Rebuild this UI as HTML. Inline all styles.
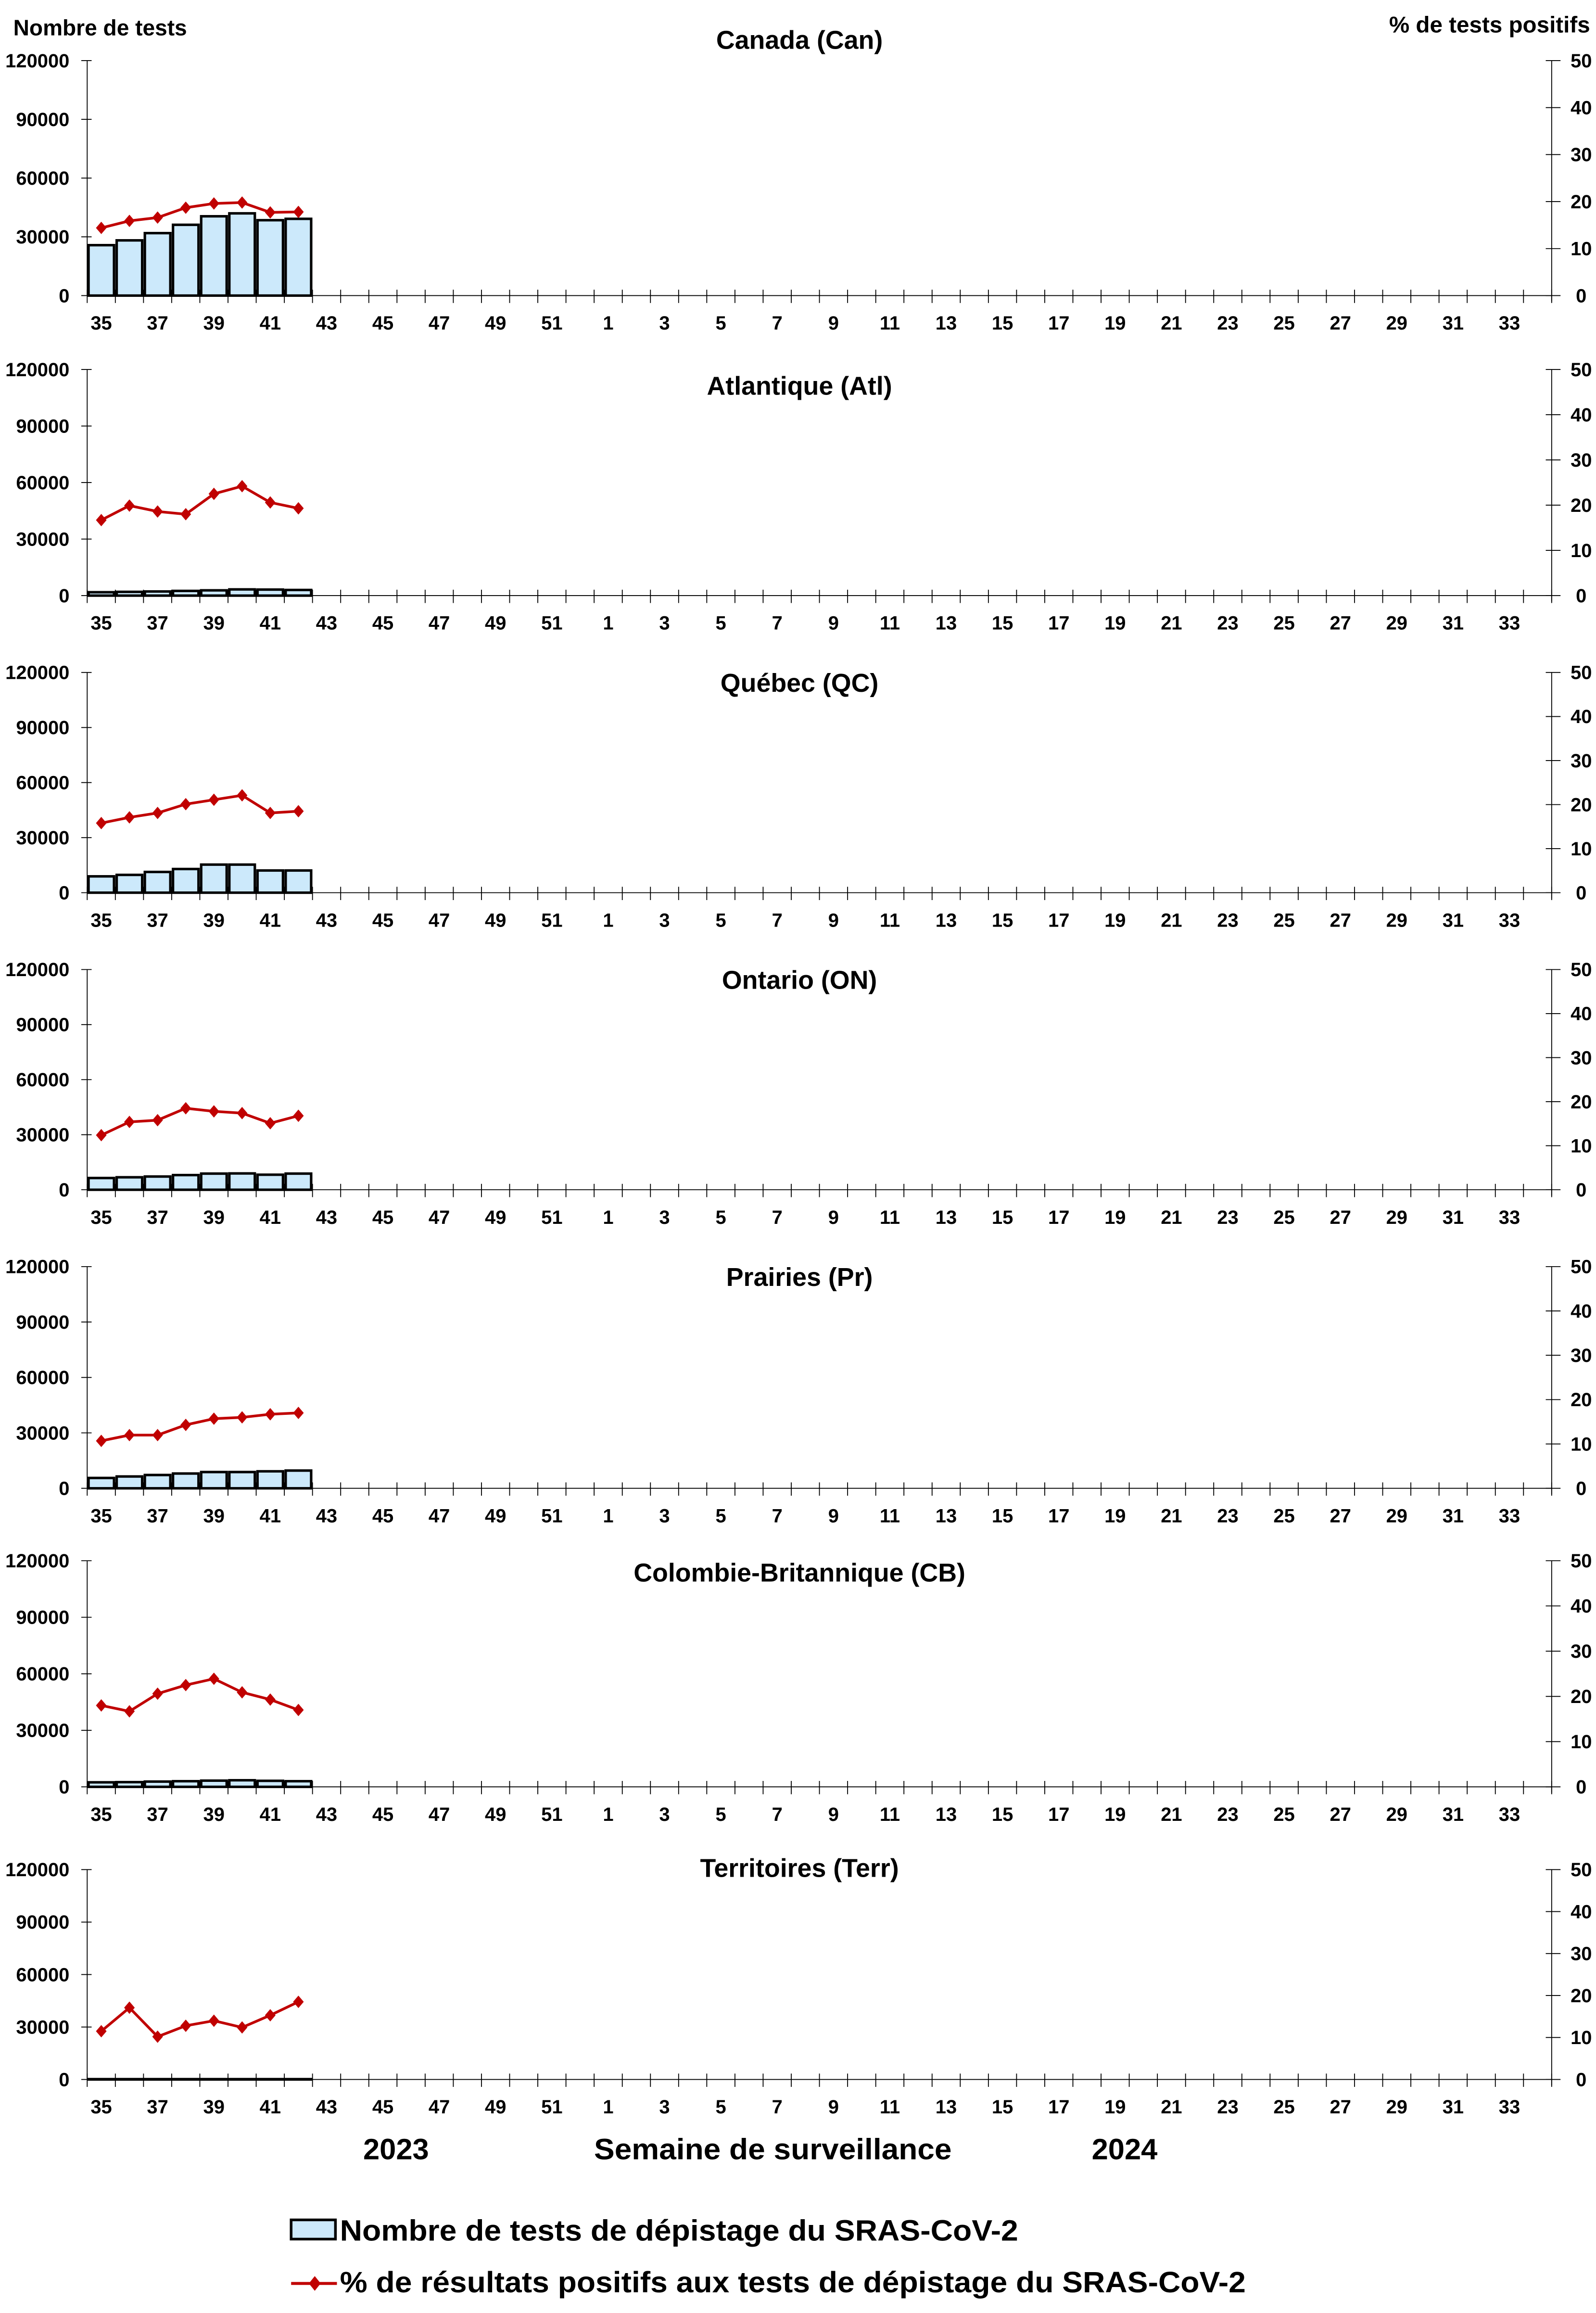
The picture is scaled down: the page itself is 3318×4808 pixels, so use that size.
<!DOCTYPE html>
<html><head><meta charset="utf-8">
<style>
html,body{margin:0;padding:0;background:#fff;}
svg{display:block;}
text{font-family:"Liberation Sans",Arial,sans-serif;font-weight:bold;fill:#000;}
</style></head>
<body>
<svg id="chart" xmlns="http://www.w3.org/2000/svg" width="3318" height="4808" viewBox="0 0 1080 1565" preserveAspectRatio="none">
<rect x="0" y="0" width="1080" height="1565" fill="#fff"/>
<text x="9" y="24" font-size="15">Nombre de tests</text>
<text x="1076" y="22" font-size="15.5" text-anchor="end" textLength="136" lengthAdjust="spacingAndGlyphs">% de tests positifs</text>
<g id="panels"></g>
<text x="268" y="1461" font-size="20" text-anchor="middle">2023</text>
<text x="523" y="1461" font-size="20" text-anchor="middle" textLength="242" lengthAdjust="spacingAndGlyphs">Semaine de surveillance</text>
<text x="761" y="1461" font-size="20" text-anchor="middle">2024</text>
<g>
  <rect x="197" y="1502" width="30" height="13" fill="#cce9fb" stroke="#000" stroke-width="1.8"/>
  <text x="230" y="1516" font-size="20" textLength="459" lengthAdjust="spacingAndGlyphs">Nombre de tests de dépistage du SRAS-CoV-2</text>
  <line x1="197" y1="1545" x2="228" y2="1545" stroke="#c00000" stroke-width="2"/>
  <path d="M213,1540 L217,1545 L213,1550 L209,1545 Z" fill="#c00000"/>
  <text x="230" y="1551" font-size="20" textLength="613" lengthAdjust="spacingAndGlyphs">% de résultats positifs aux tests de dépistage du SRAS-CoV-2</text>
</g>
</svg>
<script>
const weeks = [35,36,37,38,39,40,41,42,43,44,45,46,47,48,49,50,51,52,1,2,3,4,5,6,7,8,9,10,11,12,13,14,15,16,17,18,19,20,21,22,23,24,25,26,27,28,29,30,31,32,33,34];
const leftTicks = [0,30000,60000,90000,120000];
const rightTicks = [0,10,20,30,40,50];
const regions = ["Canada (Can)","Atlantique (Atl)","Québec (QC)","Ontario (ON)","Prairies (Pr)","Colombie-Britannique (CB)","Territoires (Terr)"];
const testsCan = [25750,28200,31900,36150,40500,42000,38500,39200];
const testsAtl = [1800,2000,2200,2500,2800,3300,3200,3000];
const testsQC = [8900,9700,11300,12900,15300,15300,12100,12100];
const testsON = [6400,6800,7200,8000,8800,8900,8200,8800];
const testsPr = [5600,6400,7200,8000,8800,8800,9200,9600];
const testsCB = [2400,2500,2800,3000,3300,3500,3200,3000];
const testsTerr = [200,200,200,200,200,200,200,200];
const pctCan = [14.4,15.9,16.6,18.7,19.6,19.8,17.7,17.8];
const pctAtl = [16.7,19.9,18.6,18.0,22.5,24.2,20.6,19.3];
const pctQC = [15.8,17.1,18.1,20.1,21.1,22.1,18.1,18.5];
const pctON = [12.4,15.4,15.8,18.5,17.8,17.4,15.1,16.8];
const pctPr = [10.7,12.0,12.0,14.3,15.7,16.0,16.7,17.0];
const pctCB = [18.0,16.7,20.6,22.5,23.9,20.9,19.3,17.0];
const pctTerr = [11.5,17.1,10.2,12.8,14.0,12.4,15.3,18.5];

const testsAll = [testsCan,testsAtl,testsQC,testsON,testsPr,testsCB,testsTerr];
const pctAll = [pctCan,pctAtl,pctQC,pctON,pctPr,pctCB,pctTerr];
const layout = [[41,200,33],[250,403,267],[455,604,468],[656,805,669],[857,1007,870],[1056,1209,1070],[1265,1407,1270]];

const NS="http://www.w3.org/2000/svg";
const root=document.getElementById('panels');
const X0=59, X1=1050, cw=(X1-X0)/weeks.length;
function mk(tag,attrs,parent){const e=document.createElementNS(NS,tag);for(const k in attrs)e.setAttribute(k,attrs[k]);parent.appendChild(e);return e;}

regions.forEach((name,p)=>{
  const [top,base,ty]=layout[p];
  const yL=v=>base-(v/120000)*(base-top);
  const yR=v=>base-(v/50)*(base-top);
  const xC=i=>X0+cw*(i+0.5);
  const g=mk('g',{},root);
  
  
  const t=mk('text',{x:541,y:ty,'font-size':17.5,'text-anchor':'middle'},g);
  
  
  t.textContent=name;
  const la=mk('line',{x1:X0,y1:top,x2:X0,y2:base,stroke:'#000','stroke-width':0.6},g);
  
  
  const ra=mk('line',{x1:X1,y1:top,x2:X1,y2:base+4,stroke:'#000','stroke-width':0.6},g);
  
  
  const xa=mk('line',{x1:X0,y1:base,x2:X1,y2:base,stroke:'#000','stroke-width':0.6},g);
  
  
  leftTicks.forEach(v=>{
    mk('line',{x1:55,y1:yL(v),x2:62,y2:yL(v),stroke:'#000','stroke-width':0.6},g);
    const l=mk('text',{x:47,y:yL(v)+4.5,'font-size':13,'text-anchor':'end'},g);
    
    
    l.textContent=v;
  });
  rightTicks.forEach(v=>{
    mk('line',{x1:1046,y1:yR(v),x2:1056,y2:yR(v),stroke:'#000','stroke-width':0.6},g);
    const l=mk('text',{x:1070,y:yR(v)+4.5,'font-size':13,'text-anchor':'middle'},g);
    
    
    l.textContent=v;
  });
  for(let i=0;i<=weeks.length;i++){
    mk('line',{x1:X0+cw*i,y1:base-4,x2:X0+cw*i,y2:base+5,stroke:'#000','stroke-width':0.6},g);
  }
  weeks.forEach((w,i)=>{
    if(i%2===0){
      const l=mk('text',{x:xC(i),y:base+23,'font-size':13,'text-anchor':'middle'},g);
      
      
      l.textContent=w;
    }
  });
  testsAll[p].forEach((v,i)=>{
    const y=yL(v);
    const b=mk('rect',{x:X0+cw*i+0.9,y:y,width:cw-1.8,height:Math.max(base-y,0.1),fill:'#cce9fb',stroke:'#000','stroke-width':1.7},g);
    
    
  });
  const pts=pctAll[p].map((v,i)=>xC(i)+','+yR(v)).join(' ');
  const pl=mk('polyline',{points:pts,fill:'none',stroke:'#c00000','stroke-width':1.8},g);
  
  
  pctAll[p].forEach((v,i)=>{
    const x=xC(i),y=yR(v);
    const m=mk('path',{d:`M${x},${y-4.2} L${x+3.6},${y} L${x},${y+4.2} L${x-3.6},${y} Z`,fill:'#c00000'},g);
    
    
  });
});
</script>
</body></html>
